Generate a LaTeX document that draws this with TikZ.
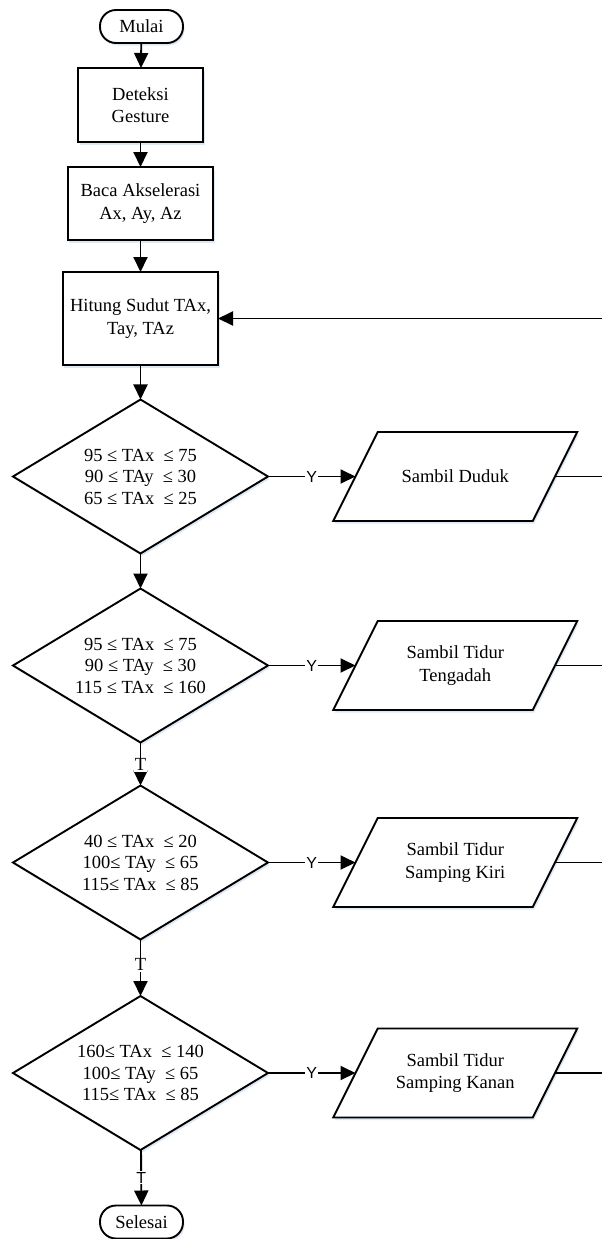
\documentclass[tikz,border=0pt]{standalone}
\usepackage{fontspec}
\setmainfont{Liberation Serif}
\newfontfamily\labelfont{Liberation Sans}
\usetikzlibrary{shapes.geometric, arrows.meta, shadows, calc, backgrounds}
\definecolor{shadowblue}{RGB}{222,232,244}
\begin{document}
\begin{tikzpicture}[x=1bp,y=-1bp,
  every node/.style={font=\fontsize{18.5bp}{22.5bp}\selectfont, inner sep=0pt, outer sep=0pt},
  shad/.style={drop shadow={shadow xshift=1.5bp, shadow yshift=-2.5bp, fill=shadowblue, opacity=1}},
  base/.style={draw, line width=1.9bp, align=center, fill=white, shad},
  proc/.style={base, rectangle},
  term/.style={base, rectangle, rounded corners=16bp, minimum width=83bp, minimum height=33bp},
  dec/.style={base, diamond, aspect=1.66, minimum width=255bp, minimum height=154bp,
    font=\fontsize{18.5bp}{21.5bp}\selectfont},
  io/.style={rectangle, align=center, minimum width=199.5bp, minimum height=89bp},
  iobox/.style={draw, line width=1.9bp, fill=white, line join=miter, shad},
  flow/.style={line width=1.9bp, -{Triangle[length=15bp,width=14bp]}},
  plain/.style={line width=1.9bp},
  ylab/.style={fill=white, font=\labelfont\fontsize{16bp}{16bp}\selectfont, inner sep=1bp},
  tlab/.style={fill=white, inner sep=1bp}
]
\useasboundingbox (0,0) rectangle (602,1239);

\node[term] (mulai) at (141.5,26.5) {Mulai};
\node[proc, minimum width=125bp, minimum height=74bp] (det) at (140.5,105) {Deteksi\\Gesture};
\node[proc, minimum width=145bp, minimum height=73bp] (baca) at (140.5,203.5) {Baca Akselerasi\\Ax, Ay, Az};
\node[proc, minimum width=155bp, minimum height=93bp] (hit) at (140.5,318.5) {Hitung Sudut TAx,\\Tay, TAz};

\node[dec] (d1) at (140.5,476.5) {95 ≤ TAx\ \ ≤ 75\\90 ≤ TAy\ \ ≤ 30\\65 ≤ TAx\ \ ≤ 25};
\node[dec] (d2) at (140.5,665.5) {95 ≤ TAx\ \ ≤ 75\\90 ≤ TAy\ \ ≤ 30\\115 ≤ TAx\ \ ≤ 160};
\node[dec] (d3) at (140.5,862.5) {40 ≤ TAx\ \ ≤ 20\\100≤ TAy\ \ ≤ 65\\115≤ TAx\ \ ≤ 85};
\node[dec] (d4) at (140.5,1073) {160≤ TAx\ \ ≤ 140\\100≤ TAy\ \ ≤ 65\\115≤ TAx\ \ ≤ 85};

\node[term] (sel) at (141.5,1222) {Selesai};

\node[io] (p1) at (455.25,476.5) {Sambil Duduk};
\node[io] (p2) at (455.25,665.5) {Sambil Tidur\\Tengadah};
\node[io] (p3) at (455.25,862.5) {Sambil Tidur\\Samping Kiri};
\node[io] (p4) at (455.25,1073) {Sambil Tidur\\Samping Kanan};

\begin{scope}[on background layer]
\foreach \p in {p1,p2,p3,p4}{
  \draw[iobox] ($(\p.south west)+(-22.25,0)$) -- ($(\p.north west)+(22.25,0)$)
    -- ($(\p.north east)+(22.25,0)$) -- ($(\p.south east)+(-22.25,0)$) -- cycle;
}
\end{scope}

\coordinate (rh) at (602,318.5);
\coordinate (r1) at (602,476.5);
\coordinate (r2) at (602,665.5);
\coordinate (r3) at (602,862.5);
\coordinate (r4) at (602,1073);

\draw[flow] (mulai) -- (det);
\draw[flow] (det) -- (baca);
\draw[flow] (baca) -- (hit);
\draw[flow] (hit) -- (d1);
\draw[flow] (d1) -- (d2);
\draw[flow] (d2) -- node[tlab, pos=0.52] {T} (d3);
\draw[flow] (d3) -- node[tlab, pos=0.45] {T} (d4);
\draw[flow] (d4) -- node[ylab, pos=0.5] {T} (sel);

\draw[flow] (d1) -- node[ylab] {Y} (p1);
\draw[flow] (d2) -- node[ylab] {Y} (p2);
\draw[flow] (d3) -- node[ylab] {Y} (p3);
\draw[flow] (d4) -- node[ylab] {Y} (p4);

\draw[plain] (p1) -- (r1);
\draw[plain] (p2) -- (r2);
\draw[plain] (p3) -- (r3);
\draw[plain] (p4) -- (r4);
\draw[flow] (rh) -- (hit);
\end{tikzpicture}
\end{document}
